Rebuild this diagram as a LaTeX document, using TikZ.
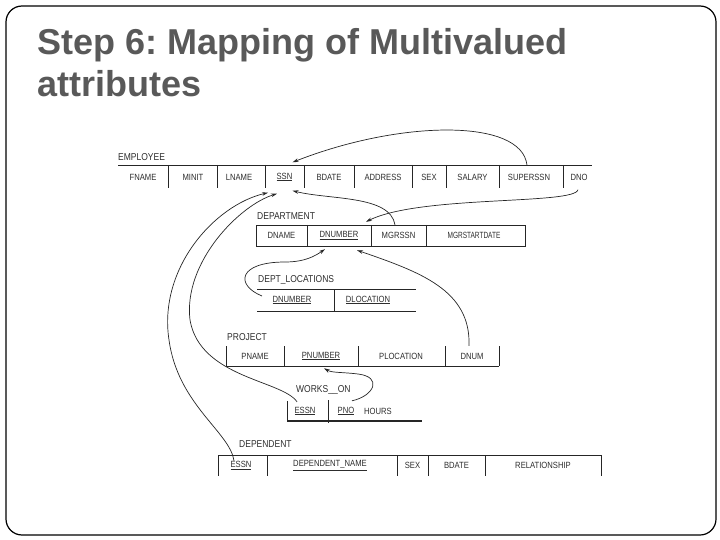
\documentclass[tikz,border=0pt]{standalone}
\usepackage{fontspec}
\setmainfont{Liberation Sans}
\newfontfamily\dfont[FakeStretch=0.85]{Liberation Sans}
\usetikzlibrary{arrows.meta}
\definecolor{titlegray}{RGB}{89,89,89}
\definecolor{ink}{RGB}{45,45,45}
\frenchspacing
\tikzset{
  cell/.style={inner sep=0, minimum height=#1, font=\dfont\fontsize{9}{10}\selectfont, text=ink},
  tlabel/.style={inner sep=0, anchor=west, font=\dfont\fontsize{10}{11}\selectfont, text=ink},
  tline/.style={line width=0.9pt, draw=black!85},
  fk/.style={line width=0.7pt, draw=black!85, -{Stealth[length=6pt,width=3.6pt]}},
  ttl/.style={inner sep=0, anchor=base west, font=\bfseries\fontsize{36}{40}\selectfont, text=titlegray}
}
\begin{document}
\begin{tikzpicture}[x=1pt,y=-1pt]
\useasboundingbox (0,0) rectangle (720,540);
\draw[line width=1.2pt, rounded corners=16pt] (6,6) rectangle (716,535);

\node[ttl] (t1) at (37,55) {Step 6: Mapping of Multivalued};
\node[ttl] (t2) at (37,97) {attributes};

% EMPLOYEE
\node[tlabel] (l-emp) at (118,157) {EMPLOYEE};
\draw[tline] (118,165) -- (592,165);
\foreach \x in {168,217,265,304,354,412,446,499,563} \draw[tline] (\x,165) -- (\x,188);
\node[cell=23] (e-fname) at (143,177) {FNAME};
\node[cell=23] (e-minit) at (193,177) {MINIT};
\node[cell=23] (e-lname) at (239,177) {LNAME};
\node[cell=23] (e-ssn) at (284.5,177) {\underline{SSN}};
\node[cell=23] (e-bdate) at (329,177) {BDATE};
\node[cell=23] (e-address) at (383,177) {ADDRESS};
\node[cell=23] (e-sex) at (429,177) {SEX};
\node[cell=23] (e-salary) at (472.5,177) {SALARY};
\node[cell=23] (e-superssn) at (529,177) {SUPERSSN};
\node[cell=23] (e-dno) at (579,177) {DNO};

% DEPARTMENT
\node[tlabel] (l-dep) at (257,216) {DEPARTMENT};
\draw[tline] (256,225) rectangle (525,246);
\foreach \x in {307,371,426} \draw[tline] (\x,225) -- (\x,246);
\node[cell=21] (d-dname) at (281.5,235.5) {DNAME};
\node[cell=21] (d-dnumber) at (339,235.5) {\underline{DNUMBER}};
\node[cell=21] (d-mgrssn) at (398.5,235.5) {MGRSSN};
\node[cell=21] (d-mgrstart) at (474,235.5) {\scalebox{0.85}[1]{MGRSTARTDATE}};

% DEPT_LOCATIONS
\node[tlabel] (l-dl) at (258,280) {DEPT\_LOCATIONS};
\draw[tline] (257,289) -- (416,289);
\draw[tline] (257,311) -- (416,311);
\draw[tline] (334,289) -- (334,311);
\node[cell=22] (dl-dnumber) at (292,300) {\underline{DNUMBER}};
\node[cell=22] (dl-dloc) at (368,300) {\underline{DLOCATION}};

% PROJECT
\node[tlabel] (l-proj) at (227,337) {PROJECT};
\draw[tline] (226,366) -- (499,366);
\foreach \x in {226,284,358,445,499} \draw[tline] (\x,346) -- (\x,366);
\node[cell=20] (p-pname) at (255,356) {PNAME};
\node[cell=20] (p-pnumber) at (321,356) {\underline{PNUMBER}};
\node[cell=20] (p-ploc) at (401,356) {PLOCATION};
\node[cell=20] (p-dnum) at (472,356) {DNUM};

% WORKS_ON
\node[tlabel] (l-wo) at (296,390) {WORKS\_\_ON};
\draw[tline] (287,401) -- (287,421);
\draw[tline] (328,400) -- (328,423);
\draw[line width=2pt, draw=black!85] (287,421) -- (422,421);
\node[cell=20] (w-essn) at (305,411) {\underline{ESSN}};
\node[cell=20] (w-pno) at (346,411) {\underline{PNO}};
\node[cell=20] (w-hours) at (378,411) {HOURS};

% DEPENDENT
\node[tlabel] (l-dp) at (239,444) {DEPENDENT};
\draw[tline] (218,455) -- (601,455);
\foreach \x in {218,267,397,428,485,601} \draw[tline] (\x,455) -- (\x,476);
\node[cell=21] (de-essn) at (241,465.5) {\underline{ESSN}};
\node[cell=21] (de-name) at (330,465.5) {\underline{DEPENDENT\_NAME}};
\node[cell=21] (de-sex) at (412.5,465.5) {SEX};
\node[cell=21] (de-bdate) at (456.5,465.5) {BDATE};
\node[cell=21] (de-rel) at (543,465.5) {RELATIONSHIP};

% foreign keys
\draw[fk] ([xshift=-2]e-superssn.north) .. controls (522,118) and (400,120) .. ([xshift=8,yshift=3]e-ssn.north);
\draw[fk] ([xshift=-1,yshift=-1]e-dno.south) .. controls (575,205) and (420,195) .. ([xshift=27,yshift=3]d-dnumber.north);
\draw[fk] ([xshift=-3.5]d-mgrssn.north) .. controls (390,195) and (330,200) .. ([xshift=8,yshift=-2]e-ssn.south);
\draw[fk] ([xshift=-30,yshift=4]dl-dnumber.center) .. controls (235,285) and (238,262) .. (285,262) .. controls (305,262) and (315,256) .. ([xshift=-14,yshift=-3]d-dnumber.south);
\draw[fk] ([xshift=-3]p-dnum.north) .. controls (471,290) and (420,272) .. ([xshift=18,yshift=-4]d-dnumber.south);
\draw[fk] ([xshift=6]w-pno.north) .. controls (374,396) and (383,377) .. (358,374) .. controls (342,372) and (332,373) .. ([xshift=3,yshift=-2]p-pnumber.south);
\draw[fk] ([xshift=-8,yshift=-1]w-essn.north) .. controls (282,380) and (200,378) .. (190,320) .. controls (183,262) and (240,205) .. ([xshift=-7.5,yshift=-5]e-ssn.south);
\draw[fk] ([xshift=-7,yshift=-6]de-essn.north) .. controls (230,432) and (178,405) .. (169,340) .. controls (158,268) and (215,205) .. ([xshift=-16.5,yshift=-4]e-ssn.south);
\end{tikzpicture}
\end{document}
